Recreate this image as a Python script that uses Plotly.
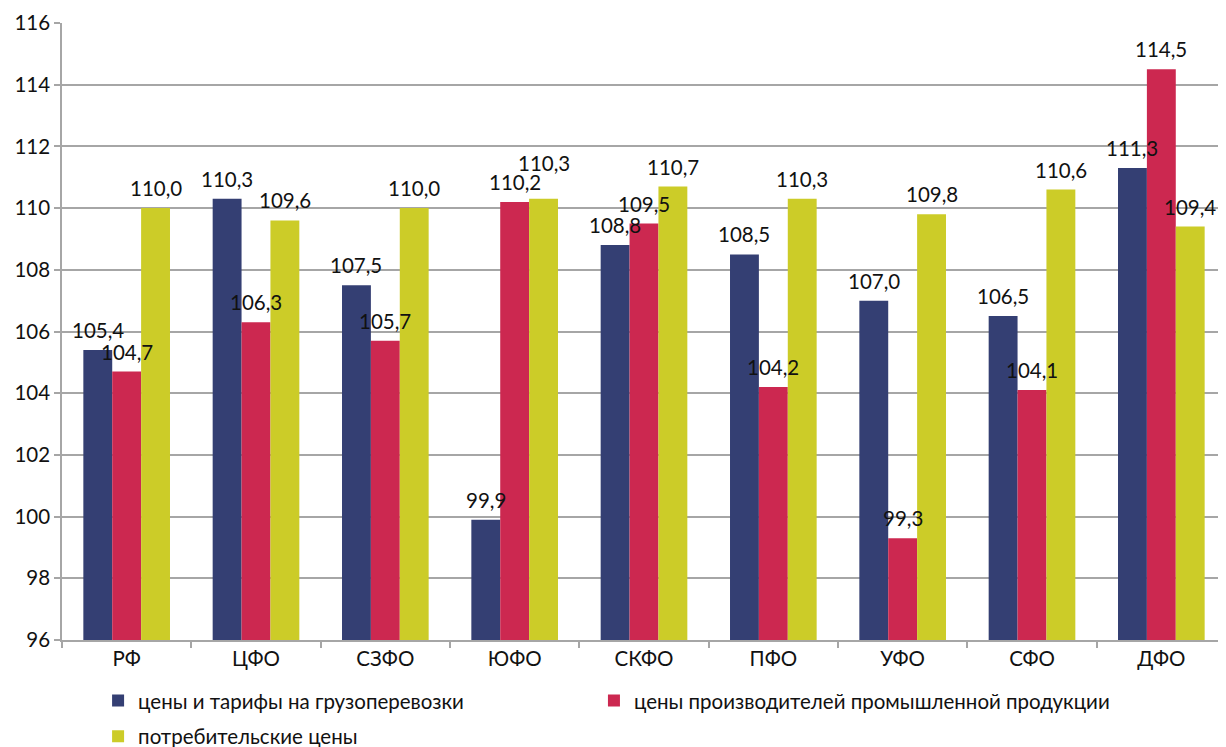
import plotly.graph_objects as go

regions = ["РФ", "ЦФО", "СЗФО", "ЮФО", "СКФО", "ПФО", "УФО", "СФО", "ДФО"]
series_names = [
    "цены и тарифы на грузоперевозки",
    "цены производителей промышленной продукции",
    "потребительские цены",
]
freight = [105.4, 110.3, 107.5, 99.9, 108.8, 108.5, 107.0, 106.5, 111.3]
producer = [104.7, 106.3, 105.7, 110.2, 109.5, 104.2, 99.3, 104.1, 114.5]
consumer = [110.0, 109.6, 110.0, 110.3, 110.7, 110.3, 109.8, 110.6, 109.4]
colors = ["#343f73", "#cc2850", "#cccc28"]

FONT = "Lato, 'Noto Sans', sans-serif"
FS = 20.5
bargap = 0.33
bar_w = (1 - bargap) / 3
# extra lift for labels that would collide (series index, region index) -> px
lift = {(2, 3): 16}
legend_of = ["legend", "legend2", "legend"]

fig = go.Figure()
annotations = []
for k, (name, vals, col) in enumerate(zip(series_names, [freight, producer, consumer], colors)):
    fig.add_trace(go.Bar(
        x=regions, y=[v - 96 for v in vals], base=96,
        name=name, marker=dict(color=col, line=dict(width=0)),
        legend=legend_of[k], legendgroup=f"g{k}",
    ))
    for i, v in enumerate(vals):
        annotations.append(dict(
            x=i + (k - 1) * bar_w, y=v, xref="x", yref="y",
            text=f"{v:.1f}".replace(".", ","), showarrow=False,
            yshift=20 + lift.get((k, i), 0), font=dict(family=FONT, size=FS, color="#111"),
        ))

leg = dict(
    orientation="v", yanchor="top", y=-0.066,
    font=dict(family=FONT, size=FS, color="#111"),
    itemclick=False, tracegroupgap=6, bgcolor="rgba(0,0,0,0)",
)

# page body has an 8px margin, so the figure is a bit smaller than the window
fig.update_layout(
    width=1218, height=739,
    barmode="group", bargap=bargap, bargroupgap=0,
    plot_bgcolor="white", paper_bgcolor="white",
    margin=dict(l=54, r=0, t=15, b=107, autoexpand=False),
    font=dict(family=FONT, size=FS, color="#111"),
    annotations=annotations,
    showlegend=True,
    legend=dict(leg, x=0.031, xanchor="left"),
    legend2=dict(leg, x=0.457, xanchor="left"),
)
fig.update_yaxes(
    range=[96, 116], dtick=2, showgrid=True, gridcolor="#a6a6a6", gridwidth=1.5,
    showline=True, linecolor="#a6a6a6", linewidth=1.5,
    ticks="outside", ticklen=6, tickcolor="#a6a6a6", tickwidth=1.5,
    zeroline=False, tickfont=dict(size=FS), automargin=False,
)
fig.update_xaxes(
    showline=True, linecolor="#a6a6a6", linewidth=1.5,
    ticks="outside", tickson="boundaries", ticklen=6, tickcolor="#a6a6a6", tickwidth=1.5,
    tickfont=dict(size=FS), automargin=False,
)

fig.write_html("out.html")
